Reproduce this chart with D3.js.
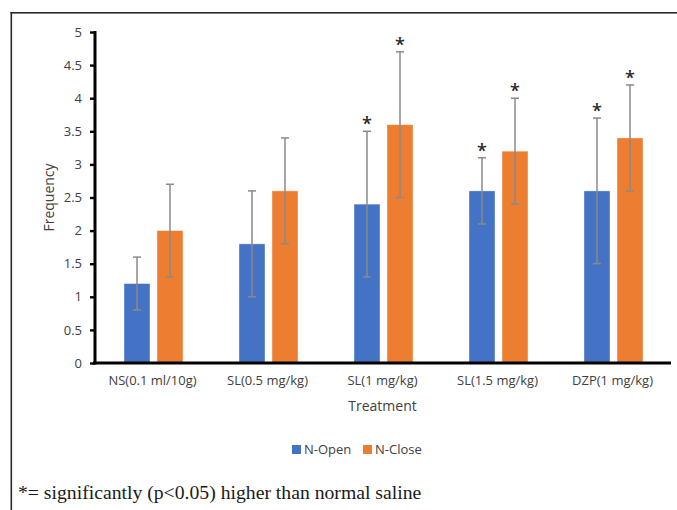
<!DOCTYPE html>
<html>
<head>
<meta charset="utf-8">
<script src="https://cdn.jsdelivr.net/npm/d3@7"></script>
<style>
  html, body { margin: 0; padding: 0; background: #fff; }
  svg { display: block; }
</style>
</head>
<body>
<svg id="chart" width="677" height="510"></svg>
<script>
// Treatment groups and measured frequencies (mean with error extent)
const categories = ["NS(0.1 ml/10g)", "SL(0.5 mg/kg)", "SL(1 mg/kg)", "SL(1.5 mg/kg)", "DZP(1 mg/kg)"];
const seriesNames = ["N-Open", "N-Close"];
const nOpen = [1.2, 1.8, 2.4, 2.6, 2.6];
const nOpenErr = [0.4, 0.8, 1.1, 0.5, 1.1];
const nClose = [2.0, 2.6, 3.6, 3.2, 3.4];
const nCloseErr = [0.7, 0.8, 1.1, 0.8, 0.8];
// groups significantly higher than normal saline
const significant = [false, false, true, true, true];
const yTicks = [0, 0.5, 1, 1.5, 2, 2.5, 3, 3.5, 4, 4.5, 5];
const footnote = "*= significantly (p<0.05) higher than normal saline";

const colors = { "N-Open": "#4472C4", "N-Close": "#ED7D31" };
const font = "'Open Sans', 'Noto Sans', sans-serif";

const svg = d3.select("#chart");

// outer frame (top and left edges)
svg.append("rect").attr("x", 10.5).attr("y", 12).attr("width", 677).attr("height", 1.6).attr("fill", "#2a2a2a");
svg.append("rect").attr("x", 10.5).attr("y", 12).attr("width", 1.6).attr("height", 510).attr("fill", "#2a2a2a");

const plot = { left: 95, right: 670, top: 32, bottom: 363 };

const x0 = d3.scaleBand().domain(categories).range([plot.left, plot.right]).padding(0);
const x1 = d3.scaleBand().domain(seriesNames).range([29, 88]).paddingInner(0.212).paddingOuter(0);
const y = d3.scaleLinear().domain([0, 5]).range([plot.bottom, plot.top]);

const rows = categories.map((c, i) => ({
  cat: c,
  sig: significant[i],
  vals: [
    { name: "N-Open", v: nOpen[i], e: nOpenErr[i] },
    { name: "N-Close", v: nClose[i], e: nCloseErr[i] }
  ]
}));

// bars
const groups = svg.append("g").selectAll("g").data(rows).join("g")
  .attr("transform", d => `translate(${x0(d.cat)},0)`);

groups.selectAll("rect").data(d => d.vals).join("rect")
  .attr("x", d => x1(d.name))
  .attr("width", x1.bandwidth())
  .attr("y", d => y(d.v))
  .attr("height", d => y(0) - y(d.v))
  .attr("fill", d => colors[d.name])
  .attr("stroke", "#ffffff").attr("stroke-opacity", 0.5).attr("stroke-width", 0.8);

// error bars
const err = groups.selectAll("g.err").data(d => d.vals.map(v => ({ ...v, sig: d.sig }))).join("g")
  .attr("class", "err")
  .attr("transform", d => `translate(${x1(d.name) + x1.bandwidth() / 2},0)`);

err.append("line").attr("x1", 0).attr("x2", 0)
  .attr("y1", d => y(d.v + d.e)).attr("y2", d => y(d.v - d.e))
  .attr("stroke", "#8a8a8a").attr("stroke-width", 1.5);
err.append("line").attr("x1", -4).attr("x2", 4)
  .attr("y1", d => y(d.v + d.e)).attr("y2", d => y(d.v + d.e))
  .attr("stroke", "#8a8a8a").attr("stroke-width", 1.5);
err.append("line").attr("x1", -4).attr("x2", 4)
  .attr("y1", d => y(d.v - d.e)).attr("y2", d => y(d.v - d.e))
  .attr("stroke", "#8a8a8a").attr("stroke-width", 1.5);

// significance markers
err.filter(d => d.sig).append("text")
  .attr("x", 0).attr("y", d => y(d.v + d.e) - 1)
  .attr("text-anchor", "middle")
  .attr("font-family", font).attr("font-size", 18).attr("font-weight", 600).attr("fill", "#262626")
  .text("*");

// y axis
const yAxis = svg.append("g").attr("transform", `translate(${plot.left},0)`)
  .call(d3.axisLeft(y).tickValues(yTicks).tickSize(0).tickPadding(13).tickFormat(d3.format("~g")));
yAxis.select(".domain").remove();
yAxis.selectAll(".tick text").attr("font-family", font).attr("font-size", 13).attr("fill", "#404040");
yAxis.selectAll(".tick").append("rect")
  .attr("x", -5).attr("y", -1.2).attr("width", 5).attr("height", 2.4).attr("fill", "#000");
yAxis.append("rect").attr("x", -1.5).attr("y", plot.top - 1)
  .attr("width", 3).attr("height", plot.bottom - plot.top + 2.5).attr("fill", "#000");

// x axis
const xAxis = svg.append("g").attr("transform", `translate(0,${plot.bottom})`)
  .call(d3.axisBottom(x0).tickSize(0).tickPadding(13));
xAxis.select(".domain").remove();
xAxis.selectAll(".tick text").attr("font-family", font).attr("font-size", 13).attr("fill", "#404040");
xAxis.append("rect").attr("x", plot.left - 2).attr("y", -1.5)
  .attr("width", plot.right - plot.left + 3).attr("height", 3).attr("fill", "#000");

// axis titles
svg.append("text")
  .attr("x", (plot.left + plot.right) / 2).attr("y", 411)
  .attr("text-anchor", "middle")
  .attr("font-family", font).attr("font-size", 14).attr("fill", "#404040")
  .text("Treatment");

svg.append("text")
  .attr("transform", `translate(54,${(plot.top + plot.bottom) / 2}) rotate(-90)`)
  .attr("text-anchor", "middle")
  .attr("font-family", font).attr("font-size", 14).attr("fill", "#404040")
  .text("Frequency");

// legend
const legend = svg.append("g");
const legendX = [292, 363];
seriesNames.forEach((name, i) => {
  const g = legend.append("g").attr("transform", `translate(${legendX[i]},445)`);
  g.append("rect").attr("width", 9).attr("height", 9).attr("fill", colors[name]);
  g.append("text").attr("x", 12).attr("y", 9)
    .attr("font-family", font).attr("font-size", 13).attr("fill", "#404040")
    .text(name);
});

// footnote
svg.append("text")
  .attr("x", 18).attr("y", 499)
  .attr("font-family", "'Liberation Serif', 'Times New Roman', serif")
  .attr("font-size", 19.7).attr("fill", "#1a1a1a")
  .text(footnote);
</script>
</body>
</html>
